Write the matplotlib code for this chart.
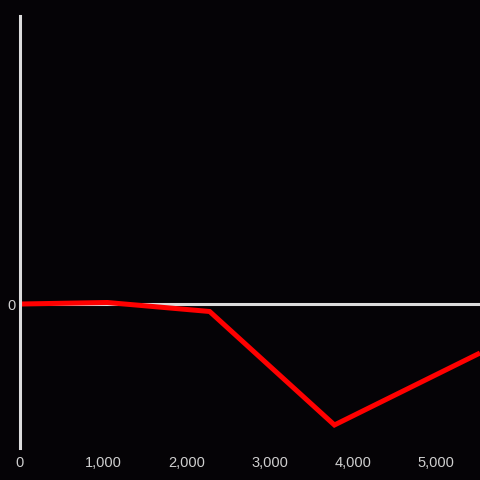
import matplotlib.pyplot as plt
from matplotlib.ticker import FuncFormatter

plt.rcParams['font.family'] = ['Liberation Sans', 'DejaVu Sans']

bg = '#050306'
axis_color = '#dcdcdc'
text_color = '#cfcfcf'

xs = [0, 1050, 2280, 3780, 5530]
ys = [0, 1.5, -7.5, -121, -49]
x_ticks = [0, 1000, 2000, 3000, 4000, 5000]
y_ticks = [0]

fig = plt.figure(figsize=(4.8, 4.8), dpi=100, facecolor=bg)
ax = fig.add_axes([20 / 480, 32 / 480, 460 / 480, 432 / 480])
ax.set_facecolor(bg)

ax.set_xlim(0, 5530)
ax.set_ylim(-144, 288)

ax.axhline(0, color=axis_color, lw=2.2, zorder=1)
ax.plot(xs, ys, color='#ff0000', lw=3.6, solid_joinstyle='miter',
        solid_capstyle='butt', zorder=2, clip_on=False)

for s in ['top', 'right', 'bottom']:
    ax.spines[s].set_visible(False)
ax.spines['left'].set_color(axis_color)
ax.spines['left'].set_linewidth(2.2)

ax.set_xticks(x_ticks)
ax.xaxis.set_major_formatter(FuncFormatter(lambda v, p: f'{int(v):,}'))
ax.set_yticks(y_ticks)
ax.tick_params(axis='both', length=0, colors=text_color, labelsize=10.5)
ax.tick_params(axis='x', pad=5.5)
ax.tick_params(axis='y', pad=3.5)

fig.savefig('out.png', dpi=100, facecolor=bg)
